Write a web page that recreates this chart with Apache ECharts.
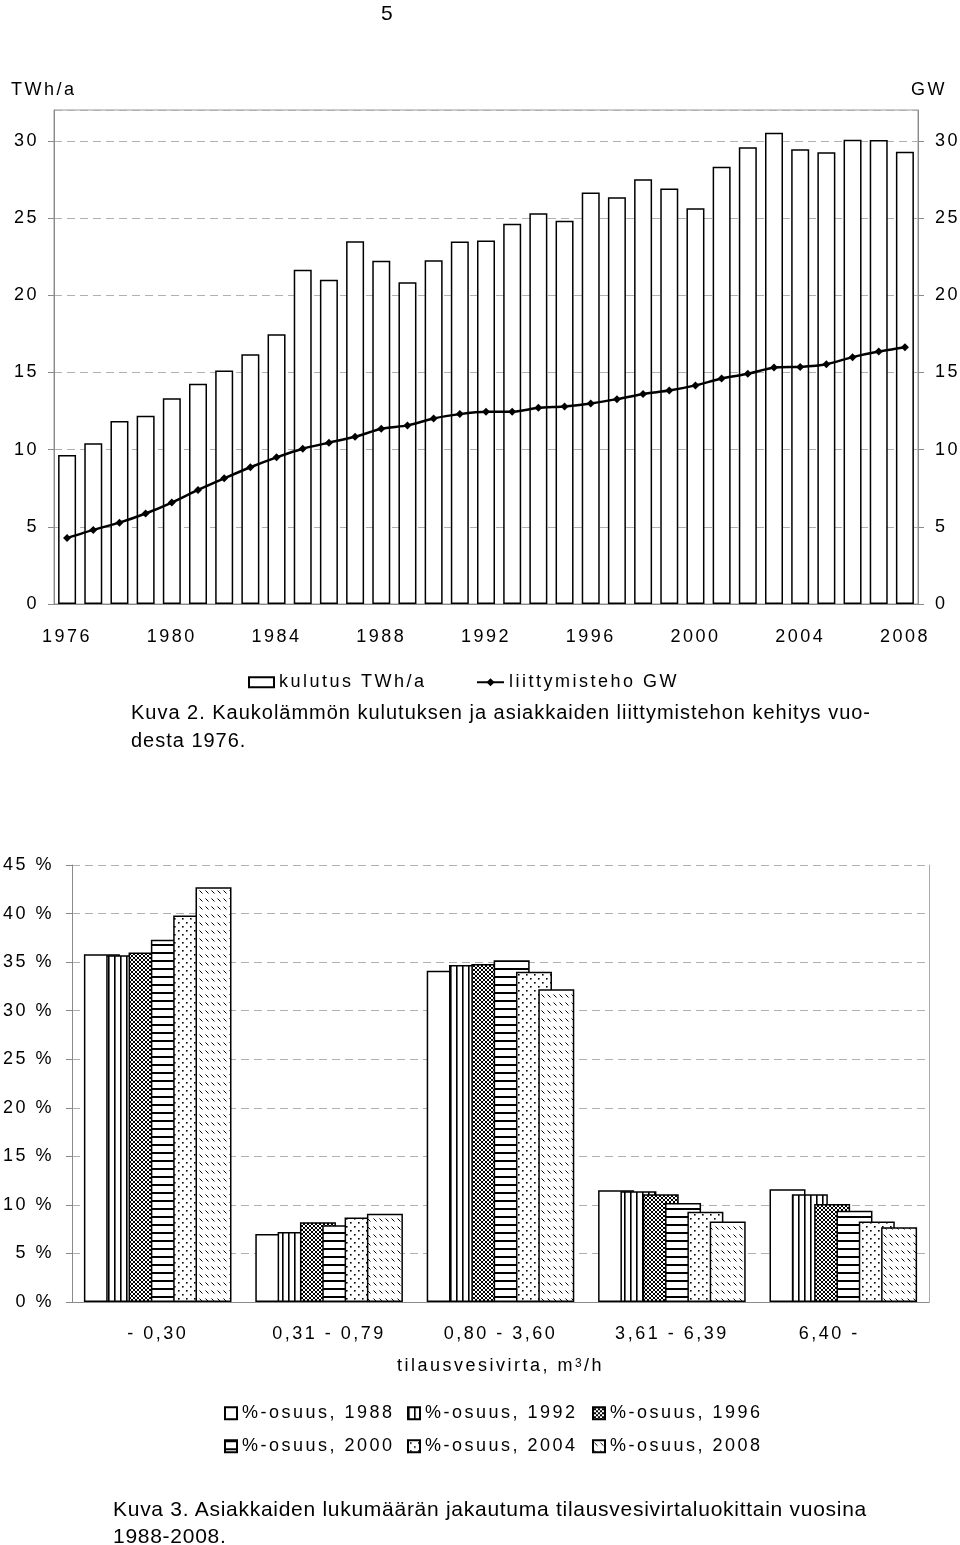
<!DOCTYPE html>
<html><head><meta charset="utf-8">
<script src="https://cdn.jsdelivr.net/npm/echarts@6/dist/echarts.min.js"></script>
<style>
html,body{margin:0;padding:0;background:#fff;}
#wrap{position:relative;width:960px;height:1545px;overflow:hidden;background:#fff;}
#chart{position:absolute;left:0;top:0;width:960px;height:1545px;}
.cap{position:absolute;white-space:nowrap;font-family:'Liberation Sans',Arial,sans-serif;color:#000;line-height:1.15;}
</style></head><body>
<div id="wrap">
<div id="chart"></div>
<div class="cap" id="pg" style="left:381px;top:1px;font-size:21px;">5</div>
<div class="cap" id="c2a" style="left:131px;top:701px;font-size:20px;">Kuva 2. Kaukolämmön kulutuksen ja asiakkaiden liittymistehon kehitys vuo-</div>
<div class="cap" id="c2b" style="left:131px;top:729px;font-size:20px;">desta 1976.</div>
<div class="cap" id="c3a" style="left:113px;top:1497px;font-size:21px;">Kuva 3. Asiakkaiden lukumäärän jakautuma tilausvesivirtaluokittain vuosina</div>
<div class="cap" id="c3b" style="left:113px;top:1524px;font-size:21px;">1988-2008.</div>
</div>
<script>
// ---------- data: chart 1 ----------
var years = ['1976','1977','1978','1979','1980','1981','1982','1983','1984','1985','1986','1987','1988','1989','1990','1991','1992','1993','1994','1995','1996','1997','1998','1999','2000','2001','2002','2003','2004','2005','2006','2007','2008'];
var kulutus = [9.65,10.41,11.85,12.19,13.32,14.26,15.13,16.18,17.47,21.65,21.01,23.50,22.24,20.85,22.26,23.48,23.55,24.63,25.31,24.82,26.65,26.35,27.51,26.91,25.64,28.33,29.58,30.53,29.45,29.26,30.08,30.06,29.30];
var liittymisteho = [4.27,4.80,5.27,5.86,6.57,7.39,8.14,8.86,9.50,10.06,10.45,10.83,11.35,11.57,12.02,12.30,12.45,12.45,12.71,12.80,12.99,13.27,13.61,13.83,14.16,14.61,14.91,15.32,15.36,15.53,15.99,16.35,16.63];
var name1 = 'kulutus TWh/a';
var name2 = 'liittymisteho GW';

// ---------- data: chart 2 ----------
var classes = ['- 0,30','0,31 - 0,79','0,80 - 3,60','3,61 - 6,39','6,40 -'];
var osuus1988 = [35.8, 7.0, 34.1, 11.5, 11.6];
var osuus1992 = [35.7, 7.2, 34.7, 11.4, 11.1];
var osuus1996 = [36.0, 8.2, 34.8, 11.1, 10.1];
var osuus2000 = [37.3, 7.9, 35.2, 10.2, 9.4];
var osuus2004 = [39.8, 8.7, 34.0, 9.3, 8.3];
var osuus2008 = [42.7, 9.1, 32.2, 8.3, 7.7];
var seriesNames2 = ['%-osuus, 1988','%-osuus, 1992','%-osuus, 1996','%-osuus, 2000','%-osuus, 2004','%-osuus, 2008'];

// ---------- letter spacing (text style of the scanned page) ----------
var LS = 2.5;
try {
  var mctx = document.createElement('canvas').getContext('2d');
  echarts.setPlatformAPI({
    measureText: function (text, font) {
      mctx.font = font || '12px sans-serif';
      mctx.letterSpacing = LS + 'px';
      return mctx.measureText(text);
    }
  });
  var P = CanvasRenderingContext2D.prototype;
  var origFill = P.fillText, origStroke = P.strokeText;
  P.fillText = function (t, x, y, m) {
    this.letterSpacing = LS + 'px';
    return m === undefined ? origFill.call(this, t, x, y) : origFill.call(this, t, x, y, m);
  };
  P.strokeText = function (t, x, y, m) {
    this.letterSpacing = LS + 'px';
    return m === undefined ? origStroke.call(this, t, x, y) : origStroke.call(this, t, x, y, m);
  };
} catch (e) {}

// ---------- fill patterns ----------
function tile(w, h, draw) {
  var c = document.createElement('canvas');
  c.width = w; c.height = h;
  var g = c.getContext('2d');
  g.fillStyle = '#fff'; g.fillRect(0, 0, w, h);
  g.fillStyle = '#000'; g.strokeStyle = '#000';
  draw(g);
  return { image: c, repeat: 'repeat' };
}
var fills = [
  '#ffffff',
  tile(6, 6, function (g) { g.fillRect(0, 0, 1.6, 6); }),
  tile(4, 4, function (g) { g.lineWidth = 1; g.beginPath(); g.moveTo(0, 0); g.lineTo(4, 4); g.moveTo(4, 0); g.lineTo(0, 4); g.stroke(); }),
  tile(6, 8, function (g) { g.fillRect(0, 0, 6, 2); }),
  tile(8, 8, function (g) { g.fillRect(2, 2, 1.6, 1.6); g.fillRect(6, 6, 1.6, 1.6); }),
  tile(6, 8, function (g) { g.lineWidth = 1; g.beginPath(); g.moveTo(1.5, 2.5); g.lineTo(4.5, 5.5); g.stroke(); })
];
var data2 = [osuus1988, osuus1992, osuus1996, osuus2000, osuus2004, osuus2008];

var FONT = 'Liberation Sans';
var chart = echarts.init(document.getElementById('chart'), null, { renderer: 'canvas' });

var axisGray = '#8a8a8a';
var gridDash = { color: '#b0b0b0', width: 1, type: [8, 5] };
var lblStyle = { fontSize: 18, color: '#000', fontFamily: FONT };

var bars2 = data2.map(function (d, i) {
  return {
    name: seriesNames2[i], type: 'bar', xAxisIndex: 1, yAxisIndex: 2,
    data: d, barWidth: 36, barGap: '-38%',
    itemStyle: { color: fills[i], borderColor: '#000', borderWidth: 1.5 },
    emphasis: { disabled: true }
  };
});

var legendPos2 = [[224, 1403], [407, 1403], [592, 1403], [224, 1436], [407, 1436], [592, 1436]];
var legends2 = seriesNames2.map(function (n, i) {
  return {
    data: [n], left: legendPos2[i][0], top: legendPos2[i][1], padding: 0,
    icon: 'rect', itemWidth: 12, itemHeight: 12,
    textStyle: { fontSize: 18, color: '#000', fontFamily: FONT },
    selectedMode: false
  };
});

var option = {
  animation: false,
  backgroundColor: 'transparent',
  textStyle: { fontFamily: FONT, color: '#000' },
  grid: [
    { left: 54, right: 42, top: 110, bottom: 941, show: true, borderColor: '#999', borderWidth: 1, backgroundColor: 'transparent', outerBoundsMode: 'none', containLabel: false },
    { left: 72, right: 31, top: 865, bottom: 243, outerBoundsMode: 'none', containLabel: false }
  ],
  xAxis: [
    { type: 'category', gridIndex: 0, data: years,
      axisLine: { show: true, lineStyle: { color: axisGray } }, axisTick: { show: false },
      axisLabel: Object.assign({ interval: 3, margin: 23 }, lblStyle), splitLine: { show: false } },
    { type: 'category', gridIndex: 1, data: classes,
      axisLine: { show: true, lineStyle: { color: axisGray } }, axisTick: { show: false },
      axisLabel: Object.assign({ interval: 0, margin: 22,
        formatter: function (v, i) { return i === classes.length - 1 ? '{pl|' + v + '}' : v; },
        rich: { pl: { padding: [0, 28, 0, 0], fontSize: 18, color: '#000', fontFamily: FONT } } }, lblStyle),
      splitLine: { show: false },
      name: 'tilausvesivirta, m{sup|3}/h', nameLocation: 'middle', nameGap: 54,
      nameTextStyle: { fontSize: 18, color: '#000', fontFamily: FONT,
        rich: { sup: { fontSize: 12, verticalAlign: 'top', color: '#000', fontFamily: FONT } } } }
  ],
  yAxis: [
    { type: 'value', gridIndex: 0, min: 0, max: 32, interval: 5, position: 'left',
      axisLine: { show: true, lineStyle: { color: axisGray } },
      axisTick: { show: true, length: 6, lineStyle: { color: axisGray } },
      axisLabel: Object.assign({ margin: 15, showMaxLabel: false }, lblStyle),
      splitLine: { show: true, lineStyle: gridDash } },
    { type: 'value', gridIndex: 0, min: 0, max: 32, interval: 5, position: 'right',
      axisLine: { show: true, lineStyle: { color: axisGray } },
      axisTick: { show: true, length: 6, lineStyle: { color: axisGray } },
      axisLabel: Object.assign({ margin: 17, showMaxLabel: false }, lblStyle),
      splitLine: { show: false } },
    { type: 'value', gridIndex: 1, min: 0, max: 45, interval: 5, position: 'left',
      axisLine: { show: true, lineStyle: { color: axisGray } },
      axisTick: { show: true, length: 6, lineStyle: { color: axisGray } },
      axisLabel: Object.assign({ margin: 18, formatter: '{value} %' }, lblStyle),
      splitLine: { show: true, lineStyle: gridDash } },
    { type: 'value', gridIndex: 1, min: 0, max: 45, interval: 5, position: 'right',
      axisLine: { show: true, lineStyle: { color: '#aaa' } },
      axisTick: { show: false }, axisLabel: { show: false }, splitLine: { show: false } }
  ],
  legend: [
    { data: [name1], left: 248, top: 672, padding: 0, icon: 'rect', itemWidth: 25, itemHeight: 10,
      textStyle: { fontSize: 18, color: '#000', fontFamily: FONT }, selectedMode: false },
    { data: [name2], left: 476, top: 672, padding: 0, itemWidth: 27, itemHeight: 10,
      textStyle: { fontSize: 18, color: '#000', fontFamily: FONT }, selectedMode: false }
  ].concat(legends2),
  graphic: [
    { type: 'text', left: 11, top: 80, style: { text: 'TWh/a', fontSize: 18, fill: '#000', fontFamily: FONT } },
    { type: 'text', left: 911, top: 80, style: { text: 'GW', fontSize: 18, fill: '#000', fontFamily: FONT } }
  ],
  series: [
    { name: name1, type: 'bar', xAxisIndex: 0, yAxisIndex: 0, data: kulutus, barWidth: 18,
      itemStyle: { color: '#fff', borderColor: '#000', borderWidth: 1.5 }, emphasis: { disabled: true } },
    { name: name2, type: 'line', xAxisIndex: 0, yAxisIndex: 1, data: liittymisteho, z: 5,
      smooth: 0.2, symbol: 'diamond', symbolSize: 8,
      lineStyle: { color: '#000', width: 2.5 }, itemStyle: { color: '#000' }, emphasis: { disabled: true } }
  ].concat(bars2)
};
chart.setOption(option);

// captions: spread letters to the width of the printed lines
function fit(id, target) {
  var el = document.getElementById(id);
  el.style.letterSpacing = '0px';
  var w = el.getBoundingClientRect().width;
  var ls = (target - w) / el.textContent.length;
  el.style.letterSpacing = ls + 'px';
  return ls;
}
var l2 = fit('c2a', 740);
document.getElementById('c2b').style.letterSpacing = l2 + 'px';
var l3 = fit('c3a', 754);
document.getElementById('c3b').style.letterSpacing = l3 + 'px';
</script>
</body></html>
